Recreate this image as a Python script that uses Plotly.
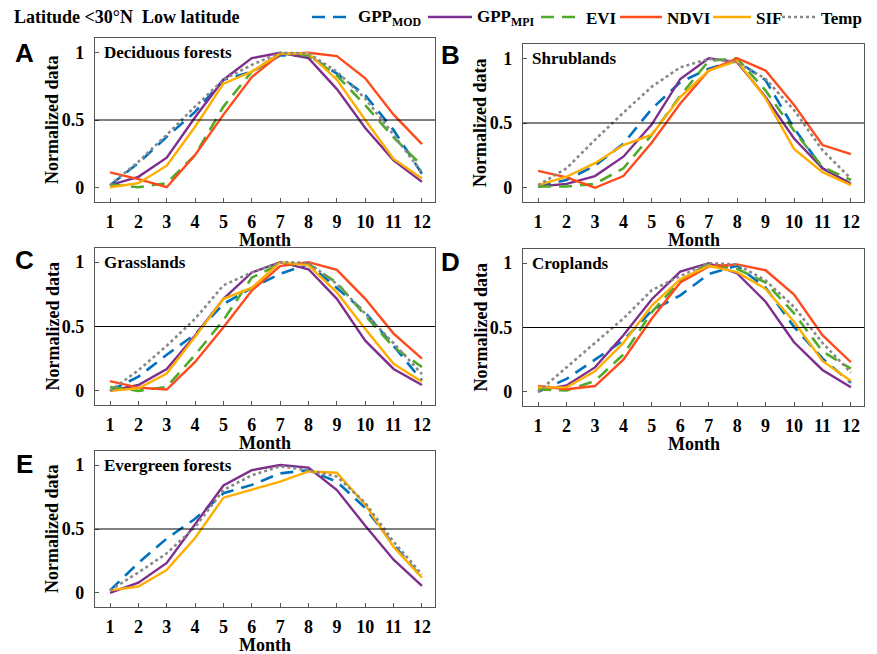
import plotly.graph_objects as go

months = list(range(1, 13))
month_labels = [str(m) for m in months]
y_tick_vals = [0, 0.5, 1]
y_tick_text = ["0", "0.5", "1"]

series_names = ["GPP<sub>MOD</sub>", "GPP<sub>MPI</sub>", "EVI", "NDVI", "SIF", "Temp"]
panel_titles = ["Deciduous forests", "Shrublands", "Grasslands", "Croplands", "Evergreen forests"]
panel_letters = ["A", "B", "C", "D", "E"]

# A: Deciduous forests
dec_gpp_mod = [0.015, 0.18, 0.375, 0.56, 0.80, 0.86, 0.98, 0.98, 0.845, 0.685, 0.425, 0.10]
dec_gpp_mpi = [0.015, 0.077, 0.22, 0.52, 0.80, 0.96, 1.0, 0.96, 0.73, 0.44, 0.20, 0.04]
dec_evi = [0.02, 0.0, 0.03, 0.24, 0.60, 0.86, 0.995, 0.98, 0.83, 0.61, 0.37, 0.16]
dec_ndvi = [0.11, 0.06, 0.0, 0.24, 0.54, 0.82, 0.99, 1.0, 0.975, 0.81, 0.54, 0.32]
dec_sif = [0.0, 0.03, 0.16, 0.45, 0.77, 0.86, 0.995, 0.995, 0.80, 0.50, 0.21, 0.065]
dec_temp = [0.015, 0.19, 0.39, 0.60, 0.80, 0.91, 1.0, 0.995, 0.86, 0.66, 0.39, 0.11]

# B: Shrublands
shr_gpp_mod = [0.01, 0.06, 0.17, 0.34, 0.61, 0.815, 0.92, 0.98, 0.83, 0.46, 0.15, 0.03]
shr_gpp_mpi = [0.01, 0.03, 0.09, 0.24, 0.49, 0.84, 1.0, 0.97, 0.70, 0.38, 0.15, 0.03]
shr_evi = [0.01, 0.01, 0.03, 0.15, 0.41, 0.71, 0.98, 1.0, 0.75, 0.44, 0.16, 0.06]
shr_ndvi = [0.13, 0.08, 0.0, 0.09, 0.35, 0.65, 0.905, 1.0, 0.905, 0.64, 0.33, 0.26]
shr_sif = [0.02, 0.085, 0.19, 0.33, 0.41, 0.70, 0.905, 0.98, 0.69, 0.30, 0.12, 0.02]
shr_temp = [0.02, 0.15, 0.37, 0.58, 0.78, 0.93, 0.995, 0.97, 0.84, 0.60, 0.29, 0.07]

# C: Grasslands
gra_gpp_mod = [0.0, 0.11, 0.28, 0.44, 0.675, 0.80, 0.91, 0.985, 0.80, 0.61, 0.35, 0.08]
gra_gpp_mpi = [0.0, 0.045, 0.17, 0.43, 0.715, 0.92, 1.0, 0.945, 0.715, 0.39, 0.17, 0.045]
gra_evi = [0.03, 0.0, 0.03, 0.28, 0.55, 0.88, 0.985, 0.985, 0.84, 0.585, 0.34, 0.185]
gra_ndvi = [0.075, 0.025, 0.01, 0.225, 0.495, 0.78, 0.97, 1.0, 0.94, 0.715, 0.445, 0.25]
gra_sif = [0.0, 0.02, 0.135, 0.42, 0.715, 0.80, 1.0, 0.975, 0.765, 0.48, 0.21, 0.07]
gra_temp = [0.0, 0.16, 0.35, 0.56, 0.82, 0.92, 1.0, 0.995, 0.83, 0.60, 0.37, 0.13]

# D: Croplands
cro_gpp_mod = [0.0, 0.10, 0.25, 0.40, 0.63, 0.75, 0.915, 0.98, 0.81, 0.505, 0.26, 0.07]
cro_gpp_mpi = [0.01, 0.05, 0.19, 0.44, 0.72, 0.935, 1.0, 0.92, 0.70, 0.385, 0.17, 0.035]
cro_evi = [0.02, 0.01, 0.085, 0.29, 0.62, 0.865, 1.0, 0.955, 0.85, 0.61, 0.315, 0.18]
cro_ndvi = [0.045, 0.02, 0.045, 0.25, 0.57, 0.85, 0.975, 0.99, 0.945, 0.755, 0.44, 0.23]
cro_sif = [0.035, 0.035, 0.16, 0.38, 0.67, 0.875, 0.98, 0.93, 0.80, 0.545, 0.24, 0.085]
cro_temp = [0.0, 0.19, 0.38, 0.57, 0.79, 0.90, 1.0, 0.99, 0.865, 0.66, 0.38, 0.15]

# E: Evergreen forests (no EVI / NDVI)
eve_gpp_mod = [0.02, 0.235, 0.425, 0.58, 0.78, 0.845, 0.935, 0.96, 0.87, 0.665, 0.375, 0.12]
eve_gpp_mpi = [0.0, 0.08, 0.235, 0.54, 0.84, 0.96, 1.0, 0.98, 0.805, 0.525, 0.26, 0.055]
eve_sif = [0.02, 0.05, 0.18, 0.43, 0.745, 0.805, 0.87, 0.95, 0.94, 0.69, 0.36, 0.12]
eve_temp = [0.02, 0.16, 0.31, 0.515, 0.805, 0.92, 0.99, 0.96, 0.91, 0.705, 0.40, 0.145]

panels = [
    [dec_gpp_mod, dec_gpp_mpi, dec_evi, dec_ndvi, dec_sif, dec_temp],
    [shr_gpp_mod, shr_gpp_mpi, shr_evi, shr_ndvi, shr_sif, shr_temp],
    [gra_gpp_mod, gra_gpp_mpi, gra_evi, gra_ndvi, gra_sif, gra_temp],
    [cro_gpp_mod, cro_gpp_mpi, cro_evi, cro_ndvi, cro_sif, cro_temp],
    [eve_gpp_mod, eve_gpp_mpi, None, None, eve_sif, eve_temp],
]

colors = ["#0072BD", "#7E2F8E", "#4FAA2A", "#FF4A1C", "#FFAE00", "#888888"]
dashes = ["13px,8px", "solid", "13px,8px", "solid", "solid", "3px,3px"]
widths = [2.6, 2.4, 2.6, 2.4, 2.4, 2.6]

W, H = 877, 654
# pixel boxes (left, top, right, bottom)
boxes = [
    (95, 38, 435, 202),
    (523, 44, 864, 202),
    (95, 248, 435, 405),
    (523, 249, 864, 406),
    (95, 451, 435, 607),
]
letter_pos = [(24, 53), (450, 55), (24, 260), (450, 262), (24, 464)]
# legend layout: (line start, line end, text start) in pixels
legend_slots = [(312, 346, 356), (428, 472, 475), (541, 575, 584), (620, 662, 665), (713, 751, 754), (782, 816, 819)]
legend_y = 17

SERIF = "Liberation Serif"
fig = go.Figure()
annotations = []
shapes = []

for i, (box, data) in enumerate(zip(boxes, panels)):
    l, t, r, b = box
    ax = "" if i == 0 else str(i + 1)
    xa = "xaxis" + ax
    ya = "yaxis" + ax
    fig.update_layout({
        xa: dict(domain=[l / W, r / W], anchor="y" + ax, range=[0.47, 12.46],
                 tickvals=months, ticktext=month_labels, ticks="inside", ticklen=4,
                 tickcolor="#555555", showline=True, linecolor="#555555", linewidth=1.3,
                 mirror=True, showgrid=False, zeroline=False, ticklabelstandoff=3,
                 tickfont=dict(family=SERIF, size=18, color="black", weight="bold")),
        ya: dict(domain=[1 - b / H, 1 - t / H], anchor="x" + ax, range=[-0.11, 1.11],
                 tickvals=y_tick_vals, ticktext=y_tick_text, ticks="inside", ticklen=4,
                 tickcolor="#555555", showline=True, linecolor="#555555", linewidth=1.3,
                 mirror=True, showgrid=False, zeroline=False, ticklabelstandoff=6,
                 tickfont=dict(family=SERIF, size=18, color="black", weight="bold")),
    })
    for k, vals in enumerate(data):
        if vals is None:
            continue
        fig.add_trace(go.Scatter(
            x=months, y=vals, mode="lines", name=series_names[k],
            line=dict(color=colors[k], dash=dashes[k], width=widths[k]),
            xaxis="x" + ax, yaxis="y" + ax, showlegend=False,
        ))
    shapes.append(dict(type="line", xref="x" + ax + " domain", yref="y" + ax,
                       x0=0, x1=1, y0=0.5, y1=0.5, line=dict(color="black", width=1)))
    annotations.append(dict(text=panel_titles[i], xref="x" + ax + " domain", yref="y" + ax,
                            x=0.02, y=1.0, xanchor="left", yanchor="middle", showarrow=False,
                            font=dict(family=SERIF, size=17, color="black", weight="bold")))
    annotations.append(dict(text=panel_letters[i], xref="paper", yref="paper",
                            x=letter_pos[i][0] / W, y=1 - letter_pos[i][1] / H,
                            xanchor="center", yanchor="middle", showarrow=False,
                            font=dict(family="Liberation Sans", size=26, color="black", weight="bold")))
    annotations.append(dict(text="Normalized data", xref="paper", yref="paper",
                            x=(l - 43) / W, y=1 - ((t + b) / 2) / H, textangle=-90,
                            xanchor="center", yanchor="middle", showarrow=False,
                            font=dict(family=SERIF, size=18, color="black", weight="bold")))
    annotations.append(dict(text="Month", xref="paper", yref="paper",
                            x=((l + r) / 2) / W, y=1 - (b + 38) / H,
                            xanchor="center", yanchor="middle", showarrow=False,
                            font=dict(family=SERIF, size=18, color="black", weight="bold")))

# legend (drawn manually to match the reference spacing)
for k, (x0, x1, xt) in enumerate(legend_slots):
    shapes.append(dict(type="line", xref="paper", yref="paper",
                       x0=x0 / W, x1=x1 / W, y0=1 - legend_y / H, y1=1 - legend_y / H,
                       line=dict(color=colors[k], dash=dashes[k], width=widths[k])))
    annotations.append(dict(text=series_names[k], xref="paper", yref="paper",
                            x=xt / W, y=1 - (legend_y + 1) / H, xanchor="left", yanchor="middle",
                            showarrow=False,
                            font=dict(family=SERIF, size=17, color="black", weight="bold")))

annotations.append(dict(text="Latitude &lt;30°N  Low latitude", xref="paper", yref="paper",
                        x=12 / W, y=1 - 17 / H, xanchor="left", yanchor="middle", showarrow=False,
                        font=dict(family=SERIF, size=18, color="black", weight="bold")))

fig.update_layout(
    width=W, height=H, autosize=False,
    margin=dict(l=0, r=0, t=0, b=0),
    paper_bgcolor="white", plot_bgcolor="white",
    annotations=annotations, shapes=shapes, showlegend=False,
)

fig.write_html("out.html", config={"displayModeBar": False},
               post_script="document.body.style.margin='0px';")
